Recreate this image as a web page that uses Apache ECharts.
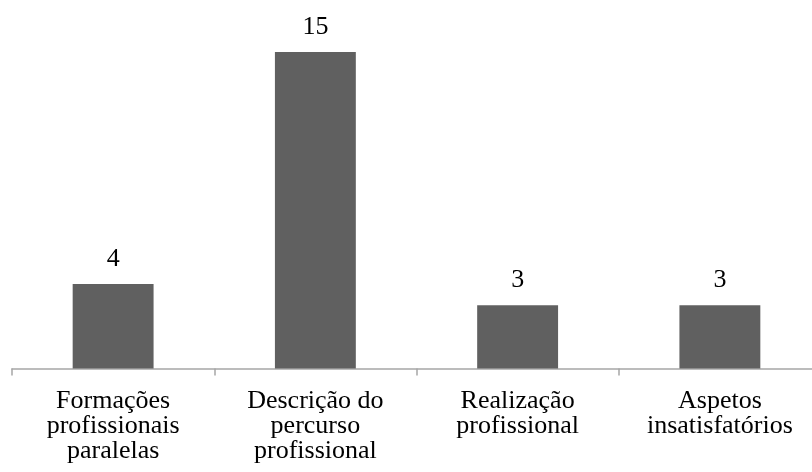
<!DOCTYPE html>
<html><head><meta charset="utf-8">
<script src="https://cdn.jsdelivr.net/npm/echarts@6/dist/echarts.min.js"></script>
<style>html,body{margin:0;padding:0;background:#fff}#c{width:812px;height:472px}</style>
</head><body><div id="c"></div>
<script>
var categories = ['Formações\nprofissionais\nparalelas', 'Descrição do\npercurso\nprofissional', 'Realização\nprofissional', 'Aspetos\ninsatisfatórios'];
var values = [4, 15, 3, 3];
var chart = echarts.init(document.getElementById('c'));
chart.setOption({
  animation: false,
  grid: {left: 12, right: -9, top: 52, bottom: 103.5, containLabel: false, outerBoundsMode: 'none'},
  xAxis: {
    type: 'category', data: categories,
    axisLine: {lineStyle: {color: '#a6a6a6', width: 1.5}},
    axisTick: {show: true, length: 7, lineStyle: {color: '#a6a6a6', width: 1.5}},
    axisLabel: {color: '#000', fontFamily: 'Liberation Serif', fontSize: 26, lineHeight: 25, margin: 20, interval: 0}
  },
  yAxis: {type: 'value', min: 0, max: 15, show: false, splitLine: {show: false}},
  series: [{
    type: 'bar', data: values, barWidth: '40%',
    itemStyle: {color: '#606060'},
    label: {show: true, position: 'top', distance: 12, color: '#000', fontFamily: 'Liberation Serif', fontSize: 26}
  }]
});
</script></body></html>
